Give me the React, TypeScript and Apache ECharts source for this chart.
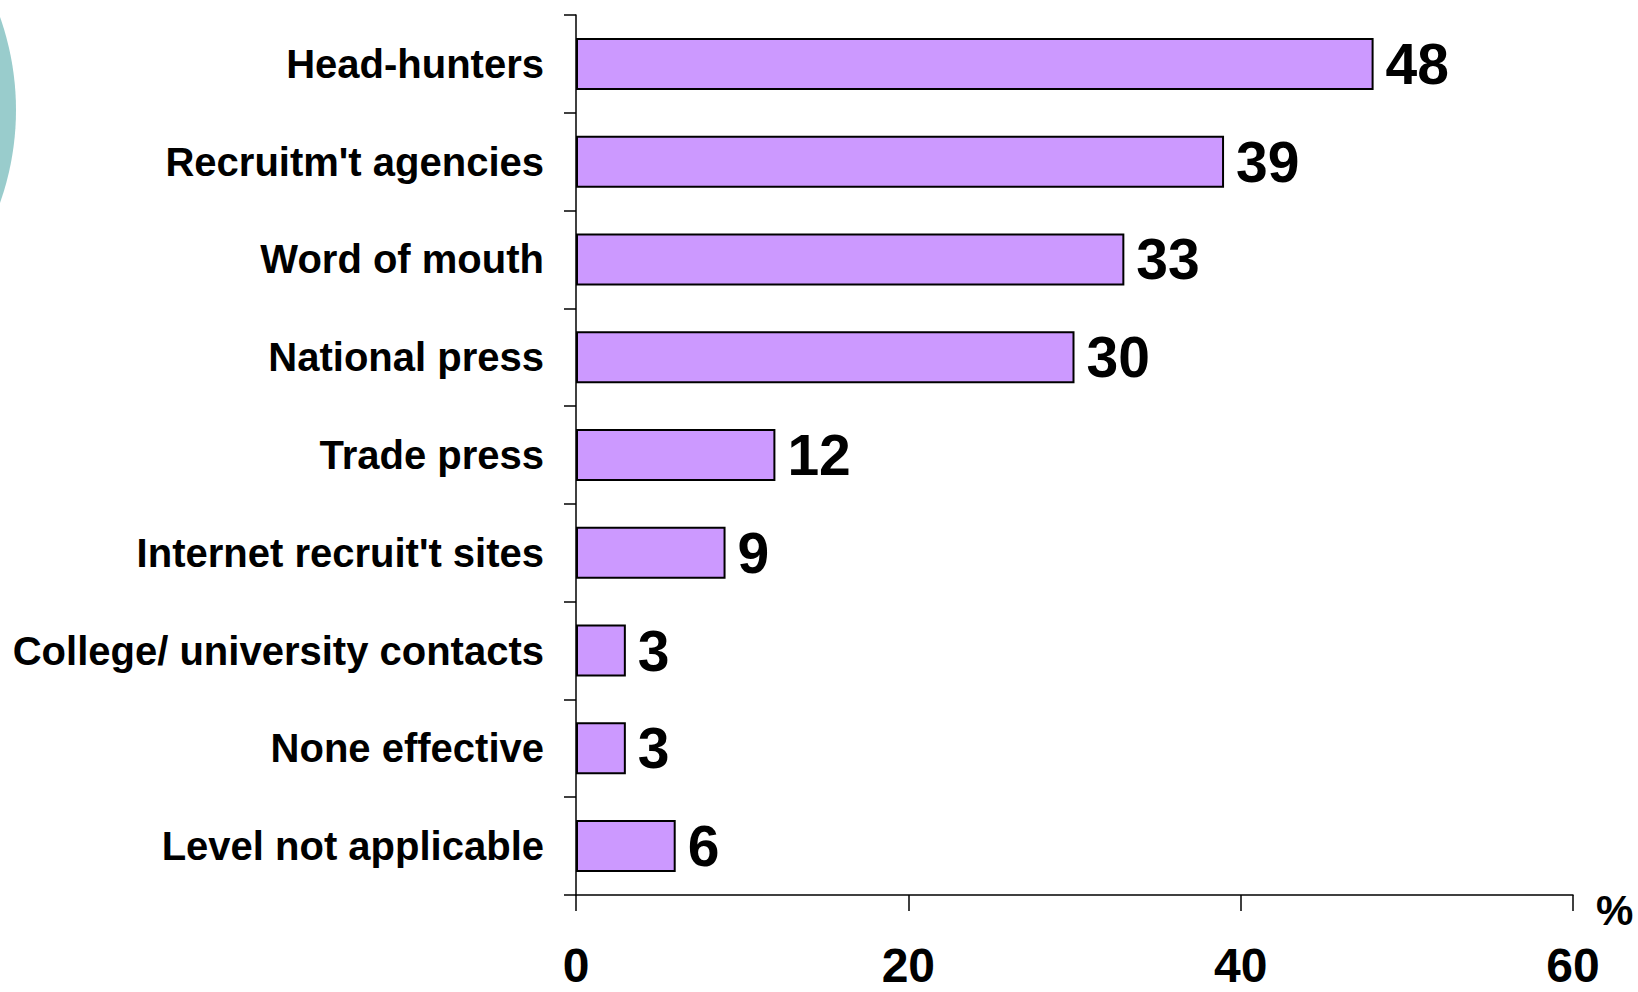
import React, { useEffect, useRef } from "react";
import * as echarts from "echarts";

const categories = [
  "Head-hunters",
  "Recruitm't agencies",
  "Word of mouth",
  "National press",
  "Trade press",
  "Internet recruit't sites",
  "College/ university contacts",
  "None effective",
  "Level not applicable",
];
const values = [48, 39, 33, 30, 12, 9, 3, 3, 6];
const xMin = 0;
const xMax = 60;
const xInterval = 20;
const unitLabel = "%";

export default function App() {
  const ref = useRef<HTMLDivElement>(null);
  useEffect(() => {
    if (!ref.current) return;
    const chart = echarts.init(ref.current, null, { renderer: "svg" });
    const font = "'Liberation Sans', Arial, sans-serif";
    chart.setOption({
      animation: false,
      backgroundColor: "#ffffff",
      grid: {
        left: 576,
        right: 65,
        top: 15,
        bottom: 97,
        containLabel: false,
        outerBoundsMode: "none",
      },
      graphic: [
        {
          type: "circle",
          shape: { cx: -262, cy: 110, r: 278 },
          style: { fill: "#99CCCC" },
          z: -1,
        },
        {
          type: "text",
          left: 1596,
          top: 889,
          style: { text: unitLabel, font: `bold 42px ${font}`, fill: "#000" },
        },
      ],
      xAxis: {
        type: "value",
        min: xMin,
        max: xMax,
        interval: xInterval,
        splitLine: { show: false },
        axisLine: { show: true, lineStyle: { color: "#000", width: 1.5 } },
        axisTick: { show: true, length: 16, lineStyle: { color: "#000", width: 1.5 } },
        axisLabel: {
          margin: 46,
          color: "#000",
          fontFamily: font,
          fontWeight: "bold",
          fontSize: 48,
          lineHeight: 48,
        },
      },
      yAxis: {
        type: "category",
        data: categories,
        inverse: true,
        axisLine: { show: true, lineStyle: { color: "#000", width: 1.5 } },
        axisTick: { show: true, length: 12, lineStyle: { color: "#000", width: 1.5 } },
        axisLabel: {
          margin: 32,
          color: "#000",
          fontFamily: font,
          fontWeight: "bold",
          fontSize: 40,
          padding: [4, 0, 0, 0],
        },
      },
      series: [
        {
          type: "bar",
          data: values,
          barWidth: 52,
          itemStyle: { color: "#CC99FF", borderColor: "#000", borderWidth: 2 },
          label: {
            show: true,
            position: "right",
            distance: 12,
            color: "#000",
            fontFamily: font,
            fontWeight: "bold",
            fontSize: 57,
          },
        },
      ],
    });
    return () => chart.dispose();
  }, []);
  return (
    <div
      ref={ref}
      style={{ position: "fixed", left: 0, top: 0, width: 1638, height: 992 }}
    />
  );
}
